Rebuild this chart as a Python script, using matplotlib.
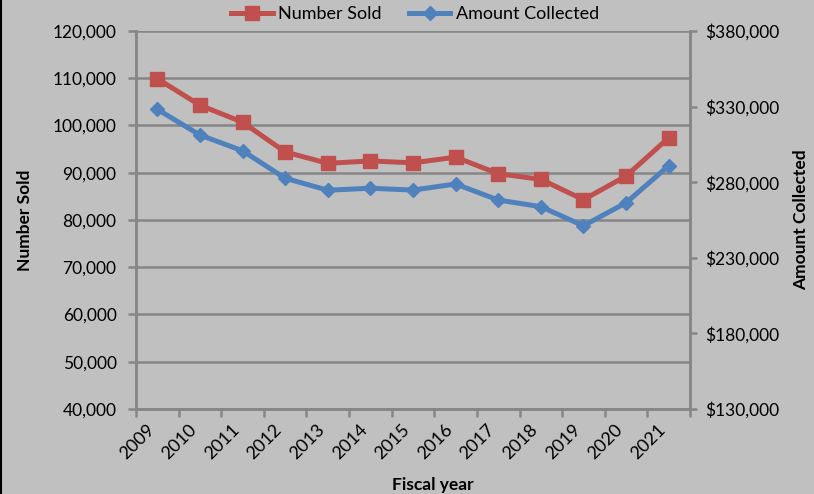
import numpy as np
import matplotlib
matplotlib.use("Agg")
import matplotlib.pyplot as plt
from matplotlib.ticker import FuncFormatter, MultipleLocator
from matplotlib.lines import Line2D

# data
years = ['2009', '2010', '2011', '2012', '2013', '2014', '2015',
         '2016', '2017', '2018', '2019', '2020', '2021']
number_sold = [109900, 104300, 100700, 94400, 92000, 92500, 92100,
               93300, 89800, 88600, 84300, 89300, 97400]
amount_collected = [328200, 311200, 300800, 282600, 274700, 276000, 274800,
                    278800, 268200, 263800, 251200, 266400, 290900]
amount_ticks = [130000, 180000, 230000, 280000, 330000, 380000]

RED = '#C0504D'
BLUE = '#4F81BD'
BG = '#C0C0C0'
GRID = '#868686'

plt.rcParams['font.family'] = ['Lato', 'DejaVu Sans']

fig = plt.figure(figsize=(8.14, 4.94), dpi=100, facecolor=BG)
ax = fig.add_axes([136 / 814, 85 / 494, 554 / 814, 378 / 494])
ax.set_facecolor(BG)
ax2 = ax.twinx()

x = np.arange(len(years))
l1, = ax.plot(x, number_sold, color=RED, lw=3.6, marker='s', ms=9.5,
              mfc=RED, mec=RED, zorder=4)
l2, = ax2.plot(x, amount_collected, color=BLUE, lw=3.6, marker='D', ms=7.5,
               mfc=BLUE, mec=BLUE, zorder=4)

ax.set_xlim(-0.5, len(years) - 0.5)
ax.set_ylim(40000, 120000)
ax2.set_ylim(amount_ticks[0], amount_ticks[-1])

ax.yaxis.set_major_locator(MultipleLocator(10000))
ax2.set_yticks(amount_ticks)
ax.yaxis.set_major_formatter(FuncFormatter(lambda v, p: f'{v:,.0f}'))
ax2.yaxis.set_major_formatter(FuncFormatter(lambda v, p: f'${v:,.0f}'))

ax.grid(axis='y', color=GRID, lw=1.8)
ax.set_axisbelow(True)

# category labels in the middle, tick marks between categories
ax.set_xticks(x)
ax.set_xticklabels(years, rotation=45, ha='right', va='top', fontsize=13)
ax.set_xticks(np.arange(-0.5, len(years)), minor=True)
ax.tick_params(axis='x', which='major', length=0, pad=9)
ax.tick_params(axis='x', which='minor', length=6, width=1.8, color=GRID)
ax.tick_params(axis='y', length=6, width=1.8, color=GRID, labelsize=12.5, pad=8)
ax2.tick_params(axis='y', length=5, width=1.8, color=GRID, labelsize=12.5, pad=6)

for a in (ax, ax2):
    for s in a.spines.values():
        s.set_color(GRID)
        s.set_linewidth(1.8)
ax.spines['top'].set_visible(False)
ax2.spines['top'].set_visible(False)

ax.set_ylabel('Number Sold', fontsize=12.5, fontweight='bold', labelpad=14)
ax2.set_ylabel('Amount Collected', fontsize=12.5, fontweight='bold', labelpad=10)
ax.set_xlabel('Fiscal year', fontsize=12.5, fontweight='bold')
ax.xaxis.set_label_coords(0.535, -0.18)

fig.legend([l1, l2], ['Number Sold', 'Amount Collected'], loc='upper center',
           bbox_to_anchor=(0.51, 1.02), ncol=2, frameon=False, fontsize=13,
           handlelength=2.3, columnspacing=1.5, handletextpad=0.3)

fig.add_artist(Line2D([0.001, 0.001], [0, 1], color='black', lw=1.5,
                      transform=fig.transFigure))

fig.savefig('out.png', dpi=100, facecolor=BG)
